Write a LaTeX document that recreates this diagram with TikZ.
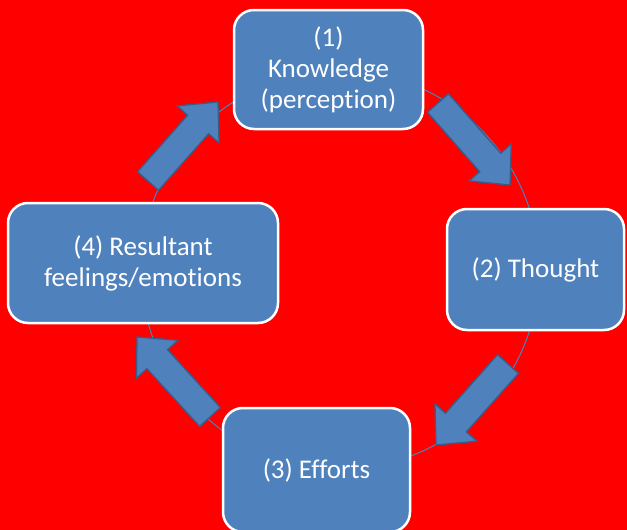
\documentclass[tikz,border=0pt]{standalone}
\usepackage{fontspec}
\setmainfont[Ligatures=NoCommon]{Carlito}
\usetikzlibrary{calc}
\pgfdeclarelayer{background}
\pgfsetlayers{background,main}
\definecolor{boxblue}{HTML}{4F81BD}
\definecolor{arrowedge}{HTML}{385D8A}

\begin{document}
\begin{tikzpicture}[x=1pt,y=-1pt,
						stagenode/.style={rectangle, rounded corners=20pt, draw=white, fill=boxblue, line width=2.5pt, text=white, align=center, inner sep=0pt, font=\fontsize{27}{31}\selectfont},
						ringline/.style={draw=boxblue, line width=1pt},
						blockarrow/.style={draw=arrowedge, fill=boxblue, line width=1.3pt, line join=miter,
							to path={let \p1=($(\tikztotarget)-(\tikztostart)$), \n1={atan2(\y1,\x1)} in
								($(\tikztostart)+(\n1+90:14pt)$)
								-- ($(\tikztotarget)+(\n1+180:30pt)+(\n1+90:14pt)$)
								-- ($(\tikztotarget)+(\n1+180:30pt)+(\n1+90:28pt)$)
								-- (\tikztotarget)
								-- ($(\tikztotarget)+(\n1+180:30pt)+(\n1-90:28pt)$)
								-- ($(\tikztotarget)+(\n1+180:30pt)+(\n1-90:14pt)$)
								-- ($(\tikztostart)+(\n1-90:14pt)$) -- cycle}},
						]
						\useasboundingbox (0,0) rectangle (627,530);
						%Nodes
						\node[stagenode, minimum width=189pt, minimum height=119pt]      (n1) 	at 	(328.5,69.5)      {(1)\\Knowledge\\(perception)};
						\node[stagenode, minimum width=177pt, minimum height=121pt]      (n2) 	at 	(535.5,269.5)     {(2) Thought};
						\node[stagenode, minimum width=187pt, minimum height=124pt]      (n3) 	at 	(316.5,470)       {(3) Efforts};
						\node[stagenode, minimum width=270pt, minimum height=120pt]      (n4) 	at 	(143,263)         {(4) Resultant\\feelings/emotions};

						%Arrow ends
						\coordinate (ctr) at (340,270);
						\coordinate (t12) at (438,103);
						\coordinate (h12) at (510,185);
						\coordinate (t23) at (508,364);
						\coordinate (h23) at (436,445);
						\coordinate (t34) at (210,417);
						\coordinate (h34) at (137,337);
						\coordinate (t41) at (148,181);
						\coordinate (h41) at (218,102);

						\begin{pgfonlayer}{background}
						%Backdrop and ring
						\fill[red] (0,0) rectangle (627,530);
						\draw[ringline] (ctr) circle[radius=199pt];
						\end{pgfonlayer}

						%Arrows
						\draw[blockarrow] (t12) to (h12);
						\draw[blockarrow] (t23) to (h23);
						\draw[blockarrow] (t34) to (h34);
						\draw[blockarrow] (t41) to (h41);
					\end{tikzpicture}
\end{document}
